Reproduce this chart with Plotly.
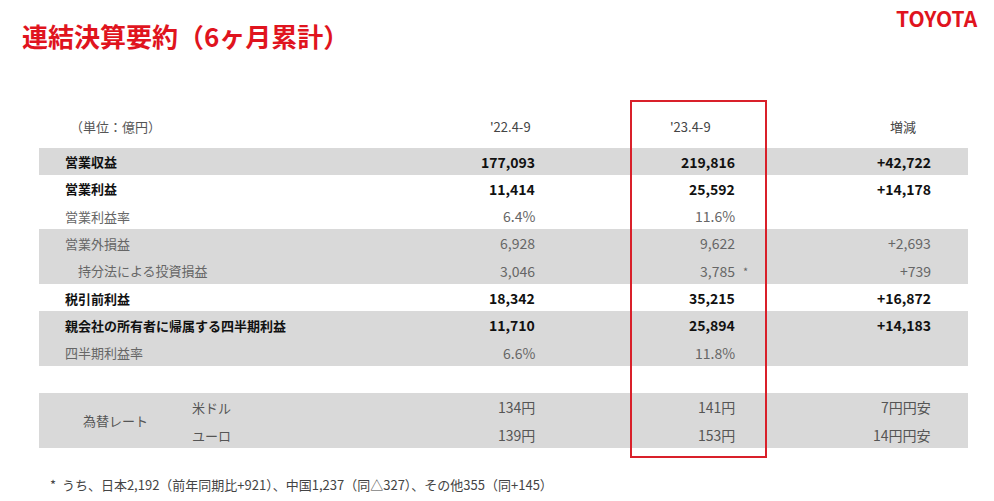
import plotly.graph_objects as go

labels = ["営業収益", "営業利益", "営業利益率", "営業外損益", "　持分法による投資損益", "税引前利益",
          "親会社の所有者に帰属する四半期利益", "四半期利益率"]
bold = [True, True, False, False, False, True, True, False]
fy22 = ["177,093", "11,414", "6.4%", "6,928", "3,046", "18,342", "11,710", "6.6%"]
fy23 = ["219,816", "25,592", "11.6%", "9,622", "3,785", "35,215", "25,894", "11.8%"]
diff = ["+42,722", "+14,178", "", "+2,693", "+739", "+16,872", "+14,183", ""]
fx_labels = ["米ドル", "ユーロ"]
fx22 = ["134円", "139円"]
fx23 = ["141円", "153円"]
fxdiff = ["7円円安", "14円円安"]
headers = ["'22.4-9", "'23.4-9", "増減"]

F = "Noto Sans CJK JP"
fig = go.Figure()
shapes = []
ann = []
grey = "#d9d9d9"
for y0, y1 in [(148, 175), (229, 284), (311, 366), (393, 448)]:
    shapes.append(dict(type="rect", x0=39, x1=968, y0=y0, y1=y1, fillcolor=grey, line_width=0, layer="below"))
shapes.append(dict(type="rect", x0=631, x1=766, y0=101, y1=457, line=dict(color="#d9202a", width=2)))

def t(x, y, s, size=13, color="#222", b=False, anchor="left"):
    if b:
        s = "<b>" + s + "</b>"
    ann.append(dict(x=x, y=y, text=s, showarrow=False, xanchor=anchor, yanchor="middle",
                    font=dict(family=F, size=size, color=color)))

t(20, 35, "連結決算要約（6ヶ月累計）", 26, "#e0141e", True)
t(980, 18, "TOYOTA", 21, "#e0141e", True, "right")
t(68, 126, "（単位：億円）", 13, "#555")
for x, h in zip([510, 690, 903], headers):
    t(x, 126, h, 13, "#444", anchor="center")
for i in range(len(labels)):
    y = 161.5 + i * 27.3
    c = "#111" if bold[i] else "#666"
    t(63, y, labels[i], 13, c, bold[i])
    t(537, y, fy22[i], 14, c, bold[i], "right")
    t(737, y, fy23[i], 14, c, bold[i], "right")
    t(933, y, diff[i], 14, c, bold[i], "right")
t(741, 161.5 + 4 * 27.3, "*", 11, "#666")
t(115, 420, "為替レート", 13, "#555", anchor="center")
for j in range(2):
    y = 407 + j * 28
    t(190, y, fx_labels[j], 13, "#555")
    t(537, y, fx22[j], 14, "#555", anchor="right")
    t(737, y, fx23[j], 14, "#555", anchor="right")
    t(933, y, fxdiff[j], 14, "#555", anchor="right")
t(48, 484, "*  うち、日本2,192（前年同期比+921）、中国1,237（同△327）、その他355（同+145）", 13, "#444")

fig.update_layout(width=994, height=501, margin=dict(l=0, r=0, t=0, b=0),
                  plot_bgcolor="white", paper_bgcolor="white", shapes=shapes, annotations=ann,
                  xaxis=dict(range=[8, 1002], visible=False, fixedrange=True),
                  yaxis=dict(range=[509, 8], visible=False, fixedrange=True), showlegend=False)
fig.write_html("out.html")
